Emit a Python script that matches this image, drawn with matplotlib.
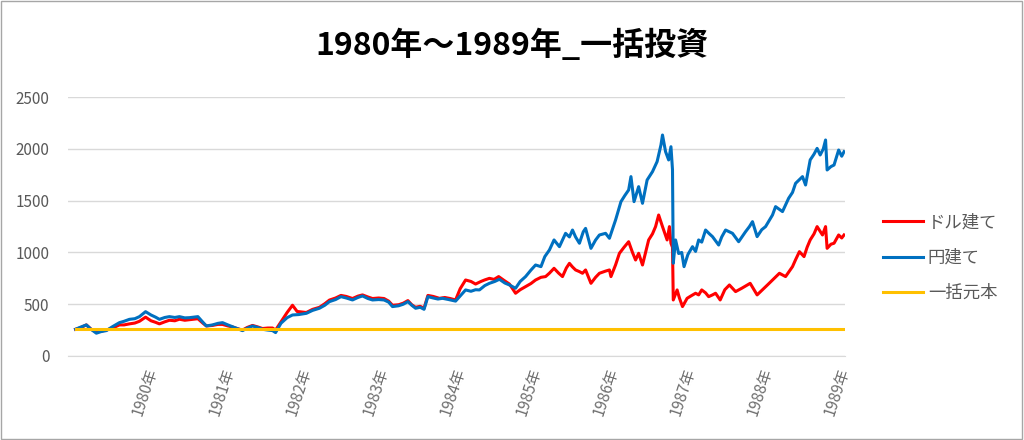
#################################################
# 1980-1989 lump-sum investment, dollar vs yen  #
#################################################
import numpy as np
import matplotlib.pyplot as plt
from matplotlib.patches import Rectangle

plt.rcParams['font.family'] = ['Noto Sans CJK JP', 'DejaVu Sans']

########
# Data #
########
# x position in years since start (tick k = end of year k)
year_labels = ['1980年', '1981年', '1982年', '1983年', '1984年',
               '1985年', '1986年', '1987年', '1988年', '1989年']

# 円建て (yen based)
yen_t = [0.00, 0.07, 0.14, 0.20, 0.27, 0.33, 0.40, 0.48, 0.57, 0.63, 0.70, 0.77, 0.83, 0.91, 0.98,
         1.04, 1.09, 1.16, 1.22, 1.29, 1.35, 1.42, 1.48, 1.54, 1.59, 1.65, 1.70, 1.78, 1.85, 1.91, 1.98,
         2.04, 2.10, 2.17, 2.23, 2.30, 2.37, 2.43, 2.50, 2.56, 2.60, 2.67, 2.75, 2.82, 2.90,
         3.00, 3.08, 3.17, 3.24, 3.30, 3.38, 3.45, 3.52, 3.60, 3.67, 3.73, 3.80, 3.86, 3.94,
         4.01, 4.07, 4.12, 4.20, 4.26, 4.32, 4.37, 4.42, 4.48, 4.53, 4.58, 4.65, 4.71, 4.77, 4.85, 4.94,
         5.00, 5.07, 5.14, 5.20, 5.25, 5.32, 5.38, 5.45, 5.51, 5.58, 5.64, 5.72, 5.78, 5.85, 5.92, 5.98,
         6.05, 6.10, 6.16, 6.22, 6.29, 6.37, 6.42, 6.46, 6.50, 6.55, 6.60, 6.63, 6.70, 6.76, 6.81, 6.89, 6.94,
         7.02, 7.09, 7.14, 7.19, 7.22, 7.26, 7.32, 7.37, 7.43, 7.50, 7.56, 7.61, 7.63, 7.67, 7.71, 7.74,
         7.76, 7.77, 7.80, 7.84, 7.88, 7.91, 7.96,
         8.02, 8.06, 8.10, 8.14, 8.19, 8.24, 8.28, 8.36, 8.40, 8.45, 8.54, 8.62, 8.71, 8.76, 8.80, 8.86,
         8.92, 8.97, 9.06, 9.10, 9.19, 9.27, 9.32, 9.36, 9.45, 9.49, 9.55, 9.60, 9.64, 9.68, 9.72, 9.75,
         9.77, 9.82, 9.86, 9.92, 9.96, 9.99]
yen_v = [258, 280, 300, 258, 220, 235, 245, 283, 322, 335, 354, 360, 380, 428, 396,
         375, 354, 372, 380, 372, 380, 368, 370, 375, 380, 330, 290, 300, 315, 322, 300,
         283, 265, 245, 268, 290, 275, 258, 250, 245, 226, 316, 370, 396, 400,
         412, 440, 461, 490, 525, 545, 573, 560, 541, 565, 580, 555, 541, 545,
         541, 520, 477, 485, 500, 525, 490, 461, 470, 451, 573, 560, 550, 557, 545, 530,
         580, 638, 625, 640, 638, 680, 702, 720, 741, 705, 686, 654, 720, 767, 830, 879,
         863, 960, 1024, 1121, 1056, 1185, 1150, 1217, 1150, 1089, 1200, 1233, 1040, 1120, 1169, 1185, 1137,
         1314, 1491, 1550, 1604, 1733, 1491, 1636, 1475, 1700, 1781, 1878, 2039, 2135, 1974, 1894, 2022,
         1800, 896, 1121, 990, 1000, 863, 980,
         1056, 1010, 1121, 1100, 1217, 1180, 1153, 1072, 1150, 1217, 1185, 1104, 1201, 1250, 1298, 1153,
         1220, 1250, 1362, 1443, 1395, 1524, 1580, 1668, 1733, 1652, 1894, 1950, 2006, 1942, 2000, 2087,
         1797, 1830, 1845, 1990, 1930, 1974]

# ドル建て (dollar based)
usd_t = [0.00, 0.07, 0.14, 0.20, 0.27, 0.33, 0.40, 0.48, 0.57, 0.63, 0.70, 0.77, 0.83, 0.91, 0.98,
         1.04, 1.09, 1.16, 1.22, 1.29, 1.35, 1.42, 1.48, 1.54, 1.59, 1.65, 1.70, 1.78, 1.85, 1.91, 1.98,
         2.04, 2.10, 2.17, 2.23, 2.30, 2.37, 2.43, 2.50, 2.56, 2.60, 2.67, 2.75, 2.82, 2.88,
         3.00, 3.08, 3.17, 3.24, 3.30, 3.38, 3.45, 3.52, 3.60, 3.67, 3.73, 3.80, 3.86, 3.94,
         4.01, 4.07, 4.12, 4.20, 4.26, 4.32, 4.37, 4.42, 4.48, 4.53, 4.58, 4.65, 4.73, 4.80, 4.87, 4.94,
         5.00, 5.07, 5.14, 5.20, 5.27, 5.32, 5.38, 5.44, 5.50, 5.57, 5.64, 5.72, 5.78, 5.85, 5.92, 5.98,
         6.05, 6.11, 6.16, 6.22, 6.28, 6.33, 6.38, 6.42, 6.46, 6.50, 6.55, 6.59, 6.63, 6.70, 6.76, 6.81,
         6.89, 6.94, 6.96,
         7.02, 7.07, 7.13, 7.19, 7.24, 7.28, 7.32, 7.37, 7.45, 7.50, 7.54, 7.58, 7.63, 7.69, 7.72, 7.74,
         7.76, 7.77, 7.82, 7.85, 7.89, 7.95,
         8.00, 8.06, 8.10, 8.14, 8.19, 8.23, 8.28, 8.32, 8.38, 8.44, 8.50, 8.58, 8.66, 8.72, 8.77, 8.82,
         8.86, 8.95, 9.00, 9.06, 9.15, 9.23, 9.28, 9.32, 9.36, 9.41, 9.47, 9.51, 9.55, 9.60, 9.64, 9.71,
         9.75, 9.77, 9.82, 9.86, 9.92, 9.96, 9.99]
usd_v = [258, 275, 300, 260, 230, 240, 250, 270, 300, 300, 310, 318, 335, 375, 340,
         325, 310, 330, 345, 340, 355, 345, 350, 355, 360, 320, 290, 295, 305, 305, 290,
         280, 265, 250, 275, 295, 280, 265, 270, 270, 250, 330, 420, 490, 430,
         420, 450, 470, 505, 540, 560, 585, 575, 555, 578, 590, 570, 555, 560,
         555, 530, 490, 495, 510, 535, 495, 470, 480, 460, 585, 575, 557, 565, 555, 541,
         650, 734, 720, 695, 720, 735, 750, 740, 767, 730, 695, 606, 640, 670, 700, 734,
         760, 767, 800, 847, 800, 767, 850, 895, 860, 831, 815, 799, 831, 702, 760, 799,
         820, 831, 767,
         880, 992, 1050, 1104, 1000, 927, 992, 879, 1121, 1180, 1250, 1362, 1250, 1121, 1250, 1089,
         1050, 541, 638, 560, 477, 557,
         580, 606, 590, 638, 610, 573, 590, 606, 541, 640, 686, 622, 654, 680, 702, 640,
         590, 654, 690, 734, 799, 767, 820, 863, 930, 1008, 960, 1050, 1121, 1180, 1250, 1169,
         1250, 1040, 1080, 1089, 1169, 1140, 1169]

# 一括元本 (lump-sum principal)
principal = 258

########
# Plot #
########
fig = plt.figure(figsize=(10.24, 4.4), dpi=100)
ax = fig.add_axes([0.066, 0.191, 0.759, 0.588])

ax.plot(usd_t, usd_v, color='#FF0000', lw=2.2, label='ドル建て', zorder=3)
ax.plot(yen_t, yen_v, color='#0070C0', lw=2.2, label='円建て', zorder=4)
ax.plot([yen_t[0], yen_t[-1]], [principal, principal], color='#FFC000', lw=2.2,
        label='一括元本', zorder=5)

ax.set_xlim(-0.104, 10.0)
ax.set_ylim(0, 2500)
ax.set_yticks(np.arange(0, 2501, 500))
ax.set_xticks(np.arange(1, 11))
ax.set_xticklabels(year_labels, rotation=72, ha='right', va='center',
                   rotation_mode='anchor')

ax.grid(axis='y', color='#D9D9D9', lw=1)
ax.set_axisbelow(True)
for s in ['top', 'right', 'left']:
    ax.spines[s].set_visible(False)
ax.spines['bottom'].set_color('#D9D9D9')
ax.tick_params(axis='y', length=0, pad=13, labelsize=11, labelcolor='#595959')
ax.tick_params(axis='x', length=0, pad=9, labelsize=11, labelcolor='#6E6E6E')

fig.text(0.5, 0.895, '1980年～1989年_一括投資', ha='center', va='center',
         fontsize=23, fontweight='bold', color='#000000')

ax.legend(loc='center left', bbox_to_anchor=(0.862, 0.414), bbox_transform=fig.transFigure,
          frameon=False, fontsize=12.5, handlelength=2.3, handletextpad=0.3,
          labelspacing=1.0, borderpad=0, borderaxespad=0, labelcolor='#595959')

# chart border
fig.patches.append(Rectangle((0.001, 0.002), 0.997, 0.995, transform=fig.transFigure,
                             fill=False, edgecolor='#A6A6A6', lw=1))

fig.savefig('out.png', dpi=100)
